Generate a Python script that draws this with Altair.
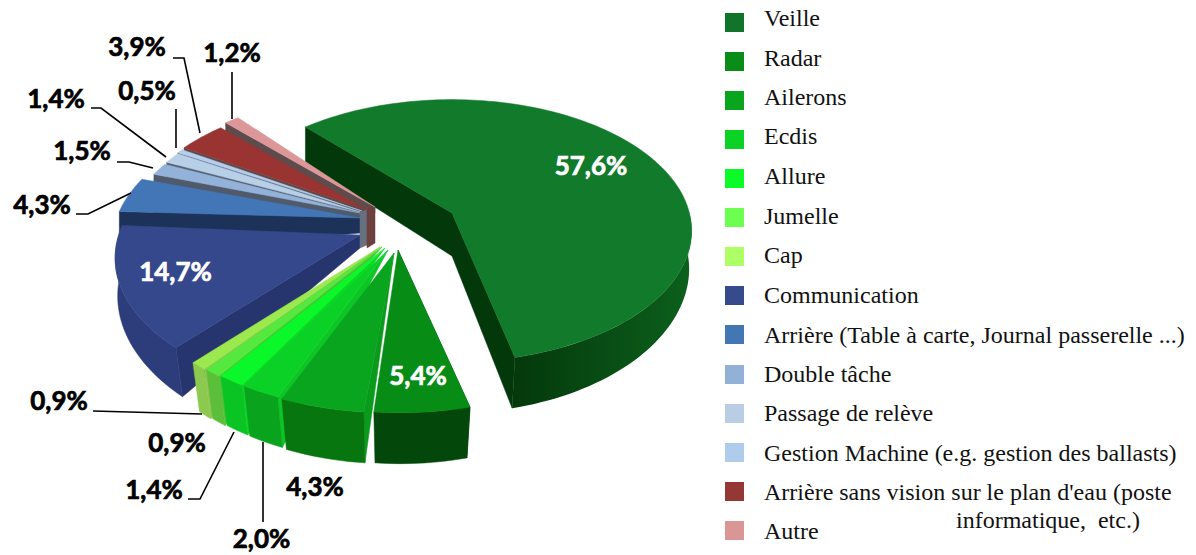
import math
import numpy as np
import altair as alt

# ---- values
categories = ["Veille", "Radar", "Ailerons", "Ecdis", "Allure", "Jumelle", "Cap", "Communication",
              "Arrière (Table à carte, Journal passerelle ...)", "Double tâche", "Passage de relève",
              "Gestion Machine (e.g. gestion des ballasts)",
              "Arrière sans vision sur le plan d'eau (poste", "Autre"]
values = [57.6, 5.4, 4.3, 2.0, 1.4, 0.9, 0.9, 14.7, 4.3, 1.5, 1.4, 0.5, 3.9, 1.2]
value_labels = ["57,6%", "5,4%", "4,3%", "2,0%", "1,4%", "0,9%", "0,9%", "14,7%", "4,3%", "1,5%", "1,4%", "0,5%", "3,9%", "1,2%"]
legend_colors = ["#12732b", "#098c18", "#0aa51e", "#0bd225", "#0bfb29", "#6cff4f", "#aeff66", "#364a8c",
                 "#4277b3", "#93b1d6", "#b9cde5", "#b0cced", "#953735", "#d99694"]

# ---- drawing styles
top_colors = ["#117a2b", "#078c16", "#0aa51f", "#0bd126", "#0af829", "#55e83e", "#9ce84f", "#35488c",
              "#4276b6", "#93b2d9", "#b8cfe8", "#b4cfee", "#9a3432", "#dc9799"]
cut_colors = ["#03380b", "#044a0b", "#0a9a1c", "#0cc623", "#0bd926", "#4fc23a", "#8cc850", "#27356f",
              "#1c3258", "#505a6a", "#55606e", "#5a6474", "#5a4a4a", "#5e4c4c"]
rim_colors = ["#06480f", "#03470b", "#08760f", "#0aa31d", "#0ac424", "#5cbf3a", "#8dc84f", "#2d3c7a",
              "#1c3258", "#505a6a", "#55606e", "#5a6474", "#5a4a4a", "#5e4c4c"]
label_colors = ["white", "white", "black", "black", "black", "black", "black", "white",
                "black", "black", "black", "black", "black", "black"]

# centre that each exploded slice's rim is measured from, and the tip that is drawn
centres = [(452, 213), (400, 250), (390, 250), (386, 248), (384, 247), (382, 247), (380, 247), (363, 232),
           (360, 218), (372, 213), (374, 211), (374, 210), (376, 208), (381, 203)]
tips = [(452, 213), (398, 250), (394, 253), (388, 250), (385, 248), (382, 247), (380, 247), (360, 235),
        (360, 218), (360, 213), (360, 212), (362, 211), (367, 210), (375, 207)]
tip_depth = [43, 0, 0, 0, 0, 0, 0, 13, 15, 6, 6, 6, 6, 6]
paint_order = [0, 13, 12, 11, 10, 9, 8, 7, 6, 5, 4, 3, 2, 1]
START_DEG = -44.6
KNOTS_IN = [-45, 100, 163, 182, 216, 269, 316]   # perspective warp of the circle
KNOTS_ADD = [-3, 2, 4.5, 2.5, 2.5, 0, 0]

label_x = [591, 418, 315, 261.5, 154, 177, 59, 175.5, 42, 82, 56, 147, 137, 232]
label_y = [175, 385, 496, 548, 499, 452, 410, 281, 214, 160, 108, 100, 56, 62]

leaders = [
    [(93, 411), (202, 414)],
    [(188, 499), (200, 499), (234, 432)],
    [(263, 522), (263, 442)],
    [(76, 214), (88, 214), (131, 193)],
    [(117, 162), (129, 162), (153, 168)],
    [(91, 108), (101, 108), (166, 157)],
    [(176, 109), (176, 148)],
    [(173, 58), (184, 58), (200, 133)],
    [(232, 72), (232, 119)],
]

legend_box_y = [22.5, 61.5, 100.5, 139.5, 178.5, 217.5, 256.5, 295.5, 334.5, 374.5, 413.5, 452.5, 491.5, 530.5]
legend_text_y = [26, 66, 105, 144, 184, 224, 263, 303, 343, 382, 421, 461, 500, 539]

W, H = 1180, 546


def project(theta_deg, slice_idx):
    """Perspective projection of a point of the pie's rim, relative to the centre."""
    t = theta_deg + float(np.interp(theta_deg, KNOTS_IN, KNOTS_ADD))
    r = math.radians(t)
    X, Yf = math.sin(r), -math.cos(r)
    A, B, c = (232, 123, -15) if slice_idx == 0 else (240, 128, -8)
    den = 1 - 0.25 * Yf
    return A * X / den, c + B * Yf / den, Yf


def ring(i, a0, a1, low=False):
    n = max(2, int(abs(a1 - a0) / 1.5) + 2)
    pts = []
    for a in np.linspace(a0, a1, n):
        dx, dy, yf = project(float(a), i)
        if low:
            pts.append((centres[i][0] + (1 - 0.045 * max(yf, 0)) * dx, centres[i][1] + dy + 42 + 9 * yf))
        else:
            pts.append((centres[i][0] + dx, centres[i][1] + dy))
    return pts


def feature(pts, color):
    coords = [[float(x), float(y)] for x, y in pts]
    coords.append(coords[0])
    return {"type": "Feature", "geometry": {"type": "Polygon", "coordinates": [coords]},
            "properties": {"fill": color}}


bounds = [START_DEG]
for v in values:
    bounds.append(bounds[-1] + v / sum(values) * 360)

features = []
big_rim = []
for i in paint_order:
    a0, a1 = bounds[i], bounds[i + 1]
    if i == 0:
        a1 += 1
    tx, ty = tips[i]
    apex_low = (tx, ty + tip_depth[i])
    if i == 6:
        # core of the pie, visible between the slices
        features.append(feature([(360, 212), (367, 210), (367, 245), (360, 248)], "#66707f"))
        features.append(feature([(367, 210), (370, 207), (375, 208), (375, 243), (367, 248)], "#6e3f3f"))
    # wall of the first cut
    features.append(feature([(tx, ty), ring(i, a0, a0)[0], ring(i, a0, a0, True)[0], apex_low], cut_colors[i]))
    if i == 0:
        # wall of the second cut; the rim only shows on the front and fades to the left
        features.append(feature([(tx, ty), ring(i, a1, a1)[0], ring(i, a1, a1, True)[0], apex_low], cut_colors[i]))
        big_rim.append(feature(ring(i, 95, a1) + ring(i, 95, a1, True)[::-1], rim_colors[i]))
    elif a1 <= 275:
        features.append(feature(ring(i, a0, a1) + ring(i, a0, a1, True)[::-1], rim_colors[i]))
    features.append(feature([(tx, ty)] + ring(i, a0, a1), top_colors[i]))

PROJ = dict(type="identity", scale=1, translate=[-8, -8])

rim_layer = alt.Chart(alt.InlineData(values=big_rim, format=alt.DataFormat(type="json"))).mark_geoshape(
    fill=alt.LinearGradient(gradient="linear", x1=0, x2=1, y1=0, y2=0,
                            stops=[alt.GradientStop(offset=0, color="#04380b"),
                                   alt.GradientStop(offset=1, color="#0c601d")]),
    stroke=None,
).project(**PROJ)

pie = alt.Chart(alt.InlineData(values=features, format=alt.DataFormat(type="json"))).mark_geoshape(
    strokeWidth=0.5
).encode(
    fill=alt.Fill("properties.fill:N", scale=None, legend=None),
    stroke=alt.Stroke("properties.fill:N", scale=None, legend=None),
).project(**PROJ)

xs = alt.Scale(domain=[8, 8 + W], range=[0, W])
ys = alt.Scale(domain=[8, 8 + H], range=[0, H])

leader_rows = [{"id": k, "o": j, "x": p[0], "y": p[1]} for k, seg in enumerate(leaders) for j, p in enumerate(seg)]
lines = alt.Chart(alt.Data(values=leader_rows)).mark_line(color="black", strokeWidth=1.6).encode(
    x=alt.X("x:Q", scale=xs, axis=None), y=alt.Y("y:Q", scale=ys, axis=None),
    detail="id:N", order="o:Q")

label_rows = [{"t": t, "x": x, "y": y, "c": c} for t, x, y, c in zip(value_labels, label_x, label_y, label_colors)]
labels = alt.Chart(alt.Data(values=label_rows)).mark_text(
    font="Lato", fontWeight="bold", fontSize=26, align="center", baseline="alphabetic", strokeWidth=0.7
).encode(x=alt.X("x:Q", scale=xs, axis=None), y=alt.Y("y:Q", scale=ys, axis=None),
         text="t:N", color=alt.Color("c:N", scale=None, legend=None),
         stroke=alt.Stroke("c:N", scale=None, legend=None))

box_rows = [{"x": 734.5, "y": y, "c": c} for y, c in zip(legend_box_y, legend_colors)]
boxes = alt.Chart(alt.Data(values=box_rows)).mark_square(size=361, opacity=1).encode(
    x=alt.X("x:Q", scale=xs, axis=None), y=alt.Y("y:Q", scale=ys, axis=None),
    color=alt.Color("c:N", scale=None, legend=None))

text_rows = [{"t": t, "x": 764, "y": y} for t, y in zip(categories, legend_text_y)]
text_rows.append({"t": "informatique,\u00a0 etc.)", "x": 956, "y": 528})
texts = alt.Chart(alt.Data(values=text_rows)).mark_text(
    font="Liberation Serif", fontSize=24, align="left", baseline="alphabetic", color="#111111"
).encode(x=alt.X("x:Q", scale=xs, axis=None), y=alt.Y("y:Q", scale=ys, axis=None), text="t:N")

chart = alt.layer(rim_layer, pie, lines, labels, boxes, texts).properties(
    width=W, height=H, padding=0, autosize=alt.AutoSizeParams(type="none")
).configure_view(stroke=None)

chart.save("out.html", embed_options={"renderer": "svg", "actions": False})
